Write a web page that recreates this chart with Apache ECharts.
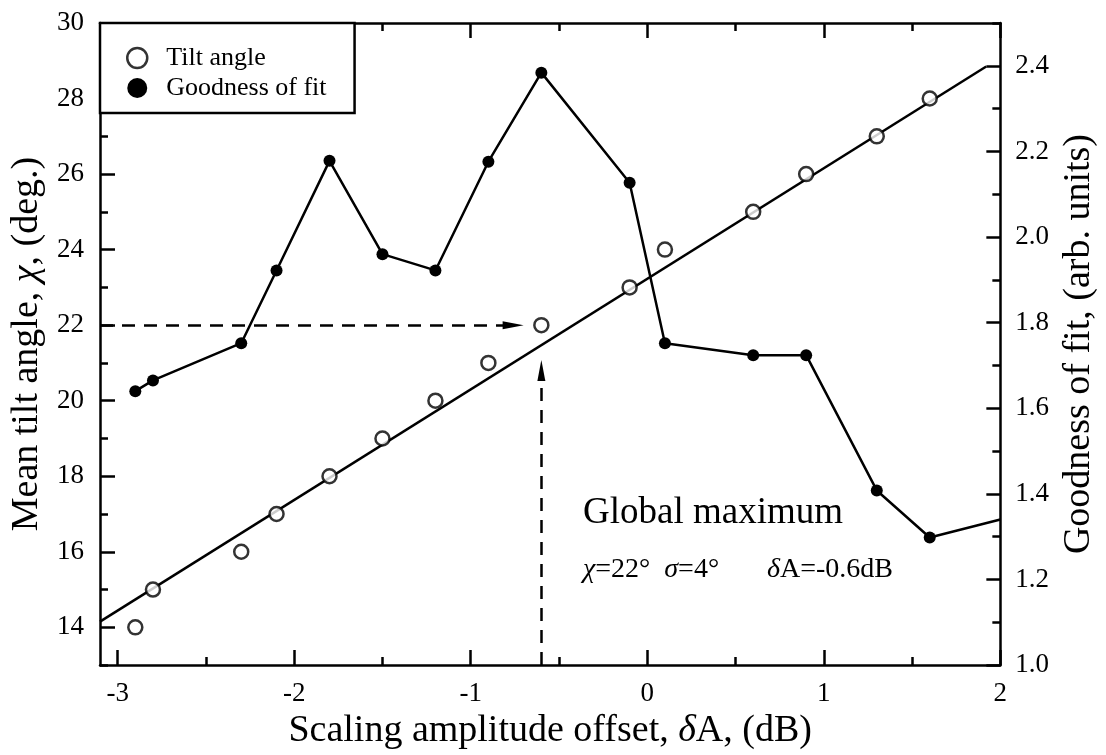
<!DOCTYPE html>
<html>
<head>
<meta charset="utf-8">
<script src="https://cdn.jsdelivr.net/npm/echarts@6/dist/echarts.min.js"></script>
<style>
  html, body { margin: 0; padding: 0; background: #fff; }
  #chart { width: 1106px; height: 755px; }
</style>
</head>
<body>
<div id="chart"></div>
<script>
// Tilt angle measurements (open circles), left axis
const tiltOffsetDb = [-2.9, -2.8, -2.3, -2.1, -1.8, -1.5, -1.2, -0.9, -0.6, -0.1, 0.1, 0.6, 0.9, 1.3, 1.6];
const tiltAngleDeg = [14, 15, 16, 17, 18, 19, 20, 21, 22, 23, 24, 25, 26, 27, 28];

// Straight-line fit through the tilt angles (end points)
const fitOffsetDb = [-3.1, 1.92];
const fitAngleDeg = [14.15, 28.85];

// Goodness of fit (filled circles), right axis; the last point only carries the line to the frame
const goodOffsetDb = [-2.9, -2.8, -2.3, -2.1, -1.8, -1.5, -1.2, -0.9, -0.6, -0.1, 0.1, 0.6, 0.9, 1.3, 1.6, 2.0];
const goodValue = [1.64, 1.665, 1.752, 1.922, 2.178, 1.96, 1.922, 2.176, 2.384, 2.127, 1.752, 1.724, 1.724, 1.408, 1.298, 1.34];

// Axis ticks
const xMajorTicks = [-3, -2, -1, 0, 1, 2];
const xMinorTicks = [-2.5, -1.5, -0.5, 0.5, 1.5];
const leftMajorTicks = [14, 16, 18, 20, 22, 24, 26, 28, 30];
const leftMinorTicks = [13, 15, 17, 19, 21, 23, 25, 27, 29];
const rightMajorTicks = [1.0, 1.2, 1.4, 1.6, 1.8, 2.0, 2.2, 2.4];
const rightMinorTicks = [1.1, 1.3, 1.5, 1.7, 1.9, 2.1, 2.3, 2.5];

// Global maximum of the goodness of fit
const bestChi = 22;
const bestSigma = 4;
const bestOffsetDb = -0.6;
// Arrow heads (centre of the head) of the two dashed guides
const hArrowEndDb = -0.76;
const vArrowEndChi = 20.8;

const FONT = '"Liberation Serif", "Times New Roman", serif';
const BLACK = '#000';
const TICK_FONT = 27;
const TITLE_FONT = 38;

function majorAxisBase(extra) {
  return Object.assign({
    type: 'value',
    axisLine: { show: true, onZero: false, lineStyle: { color: BLACK, width: 2.5 } },
    axisTick: { show: true, inside: true, length: 15, lineStyle: { color: BLACK, width: 2.5 } },
    axisLabel: { show: true, color: BLACK, fontFamily: FONT, fontSize: TICK_FONT, margin: 15 },
    splitLine: { show: false },
    nameTextStyle: { color: BLACK, fontFamily: FONT, fontSize: TITLE_FONT,
      rich: { i: { fontStyle: 'italic', fontFamily: FONT, fontSize: TITLE_FONT, color: BLACK } } }
  }, extra);
}
function minorAxisBase(extra) {
  return Object.assign({
    type: 'value',
    axisLine: { show: false, onZero: false },
    axisTick: { show: true, inside: true, length: 8, lineStyle: { color: BLACK, width: 2.5 } },
    axisLabel: { show: false },
    splitLine: { show: false }
  }, extra);
}
function ticks(values, length) {
  return { show: true, inside: true, length: length, customValues: values, lineStyle: { color: BLACK, width: 2.5 } };
}

const xRange = { min: -3.1, max: 2 };
const leftRange = { min: 13, max: 30 };
const rightRange = { min: 1.0, max: 2.5 };

const goodData = goodOffsetDb.map((x, i) => {
  const item = { value: [x, goodValue[i]] };
  if (i === goodOffsetDb.length - 1) item.symbol = 'none';
  return item;
});

const annotationRich = {
  i: { fontStyle: 'italic', fontFamily: FONT, fontSize: 28, fill: BLACK },
  sp: { width: 14 }
};

const chart = echarts.init(document.getElementById('chart'), null, { renderer: 'canvas' });

chart.setOption({
  backgroundColor: '#fff',
  animation: false,
  grid: { left: 100, right: 93, top: 23, bottom: 86 },
  legend: {
    left: 100, top: 23,
    orient: 'vertical',
    padding: [22, 28, 12, 26],
    itemGap: 4,
    itemWidth: 48,
    itemHeight: 20,
    borderColor: BLACK,
    borderWidth: 2.5,
    backgroundColor: '#fff',
    textStyle: { color: BLACK, fontFamily: FONT, fontSize: 26 },
    data: [
      { name: 'Tilt angle', icon: 'circle', itemStyle: { color: '#fff', borderColor: BLACK, borderWidth: 2.5 } },
      { name: 'Goodness of fit', icon: 'circle', itemStyle: { color: BLACK, borderWidth: 0 } }
    ]
  },
  xAxis: [
    majorAxisBase(Object.assign({
      position: 'bottom',
      name: 'Scaling amplitude offset, {i|δ}A, (dB)',
      nameLocation: 'middle',
      nameGap: 45,
      axisTick: ticks(xMajorTicks, 15),
      axisLabel: { show: true, color: BLACK, fontFamily: FONT, fontSize: TICK_FONT, margin: 15, customValues: xMajorTicks }
    }, xRange)),
    minorAxisBase(Object.assign({ position: 'bottom', axisTick: ticks(xMinorTicks, 8) }, xRange)),
    majorAxisBase(Object.assign({
      position: 'top',
      axisTick: ticks(xMajorTicks, 15),
      axisLabel: { show: false }
    }, xRange)),
    minorAxisBase(Object.assign({ position: 'top', axisTick: ticks(xMinorTicks, 8) }, xRange))
  ],
  yAxis: [
    majorAxisBase(Object.assign({
      position: 'left',
      name: 'Mean tilt angle, {i|χ}, (deg.)',
      nameLocation: 'middle',
      nameGap: 54,
      axisTick: ticks(leftMajorTicks, 15),
      axisLabel: { show: true, color: BLACK, fontFamily: FONT, fontSize: TICK_FONT, margin: 16, customValues: leftMajorTicks }
    }, leftRange)),
    majorAxisBase(Object.assign({
      position: 'right',
      name: 'Goodness of fit, (arb. units)',
      nameLocation: 'middle',
      nameGap: 44,
      nameRotate: 90,
      axisTick: ticks(rightMajorTicks, 14),
      axisLabel: { show: true, color: BLACK, fontFamily: FONT, fontSize: TICK_FONT, margin: 15, customValues: rightMajorTicks,
        formatter: v => v.toFixed(1) }
    }, rightRange)),
    minorAxisBase(Object.assign({ position: 'left', axisTick: ticks(leftMinorTicks, 8) }, leftRange)),
    minorAxisBase(Object.assign({ position: 'right', axisTick: ticks(rightMinorTicks, 8) }, rightRange))
  ],
  series: [
    {
      name: 'Fit',
      type: 'line',
      xAxisIndex: 0, yAxisIndex: 0,
      data: fitOffsetDb.map((x, i) => [x, fitAngleDeg[i]]),
      symbol: 'none',
      lineStyle: { color: BLACK, width: 2.5 },
      silent: true,
      z: 2,
      markLine: {
        silent: true,
        animation: false,
        label: { show: false },
        lineStyle: { color: BLACK, width: 2.5, type: [13, 9] },
        data: [
          [
            { coord: [xRange.min, bestChi], symbol: 'none' },
            { coord: [hArrowEndDb, bestChi], symbol: 'triangle', symbolSize: [8, 21] }
          ],
          [
            { coord: [bestOffsetDb, leftRange.min], symbol: 'none' },
            { coord: [bestOffsetDb, vArrowEndChi], symbol: 'triangle', symbolSize: [8, 21] }
          ]
        ]
      }
    },
    {
      name: 'Tilt angle',
      type: 'scatter',
      xAxisIndex: 0, yAxisIndex: 0,
      data: tiltOffsetDb.map((x, i) => [x, tiltAngleDeg[i]]),
      symbol: 'circle',
      symbolSize: 14,
      itemStyle: { color: '#fff', borderColor: BLACK, borderWidth: 2.5 },
      z: 4
    },
    {
      name: 'Goodness of fit',
      type: 'line',
      xAxisIndex: 0, yAxisIndex: 1,
      data: goodData,
      symbol: 'circle',
      symbolSize: 12,
      showAllSymbol: true,
      itemStyle: { color: BLACK },
      lineStyle: { color: BLACK, width: 2.5 },
      z: 3
    }
  ],
  graphic: [
    {
      type: 'text', left: 583, top: 495,
      style: { text: 'Global maximum', fontFamily: FONT, fontSize: 37, fill: BLACK }
    },
    {
      type: 'text', left: 583, top: 556,
      style: {
        text: `{i|χ}=${bestChi}°{sp| }{i|σ}=${bestSigma}°`,
        fontFamily: FONT, fontSize: 28, fill: BLACK,
        rich: annotationRich
      }
    },
    {
      type: 'text', left: 767, top: 556,
      style: {
        text: `{i|δ}A=${bestOffsetDb}dB`,
        fontFamily: FONT, fontSize: 28, fill: BLACK,
        rich: annotationRich
      }
    }
  ]
});
</script>
</body>
</html>
